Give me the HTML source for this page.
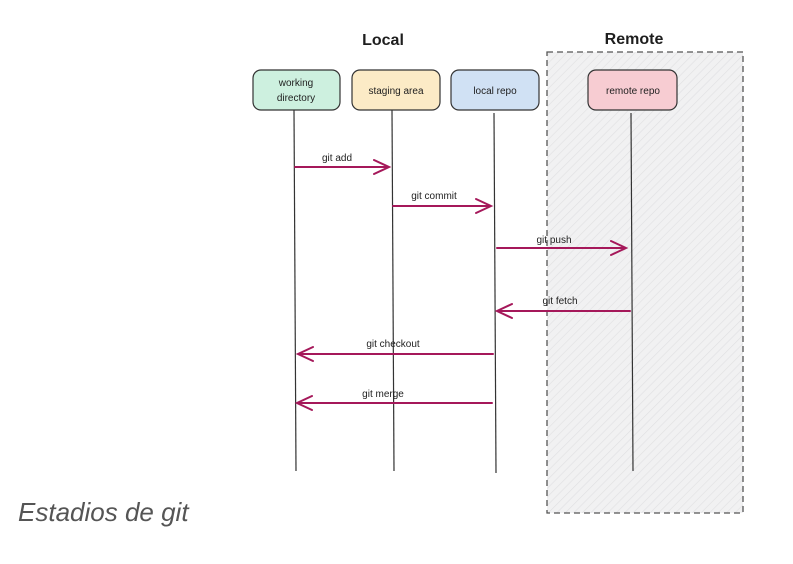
<!DOCTYPE html>
<html><head><meta charset="utf-8"><style>
html,body{margin:0;padding:0;background:#fff;width:793px;height:564px;overflow:hidden}
svg text{font-family:"Liberation Sans",sans-serif;fill:#1e1e1e}
</style></head><body>
<svg width="793" height="564" viewBox="0 0 793 564" xmlns="http://www.w3.org/2000/svg">
<defs>
<pattern id="h" width="6" height="6" patternUnits="userSpaceOnUse" patternTransform="rotate(45)">
<rect width="6" height="6" fill="#f1f1f2"/><line x1="0" y1="0" x2="0" y2="6" stroke="#e0e0e2" stroke-width="1.2"/>
</pattern>
</defs>
<rect x="547" y="52" width="196" height="461" fill="url(#h)" stroke="#555" stroke-width="1.3" stroke-dasharray="6,4"/>
<text x="383" y="45" font-size="16" text-anchor="middle" font-weight="bold">Local</text>
<text x="634" y="44" font-size="16" text-anchor="middle" font-weight="bold">Remote</text>
<g stroke="#333" stroke-width="1.2">
<rect x="253" y="70" width="87" height="40" rx="8" fill="#cdf0df"/>
<rect x="352" y="70" width="88" height="40" rx="8" fill="#fcebc6"/>
<rect x="451" y="70" width="88" height="40" rx="8" fill="#d0e1f4"/>
<rect x="588" y="70" width="89" height="40" rx="8" fill="#f7ccd2"/>
<line x1="294" y1="110" x2="296" y2="471"/>
<line x1="392" y1="110" x2="394" y2="471"/>
<line x1="494" y1="113" x2="496" y2="473"/>
<line x1="631" y1="113" x2="633" y2="471"/>
</g>
<g font-size="10" text-anchor="middle">
<text x="296" y="86">working</text><text x="296" y="101">directory</text>
<text x="396" y="94">staging area</text>
<text x="495" y="94">local repo</text>
<text x="633" y="94">remote repo</text>
</g>
<g stroke="#a5185a" stroke-width="2" fill="none" stroke-linecap="round">
<path d="M295 167H389M374 160L389 167L374 174"/>
<path d="M393 206H491M476 199L491 206L476 213"/>
<path d="M497 248H626M611 241L626 248L611 255"/>
<path d="M630 311H497M512 304L497 311L512 318"/>
<path d="M493 354H298M313 347L298 354L313 361"/>
<path d="M492 403H297M312 396L297 403L312 410"/>
</g>
<g font-size="10" text-anchor="middle">
<text x="337" y="161">git add</text>
<text x="434" y="199">git commit</text>
<text x="554" y="243">git push</text>
<text x="560" y="304">git fetch</text>
<text x="393" y="347">git checkout</text>
<text x="383" y="397">git merge</text>
</g>
<text x="18" y="521" font-size="26" font-style="italic" style="fill:#555">Estadios de git</text>
</svg>
</body></html>
